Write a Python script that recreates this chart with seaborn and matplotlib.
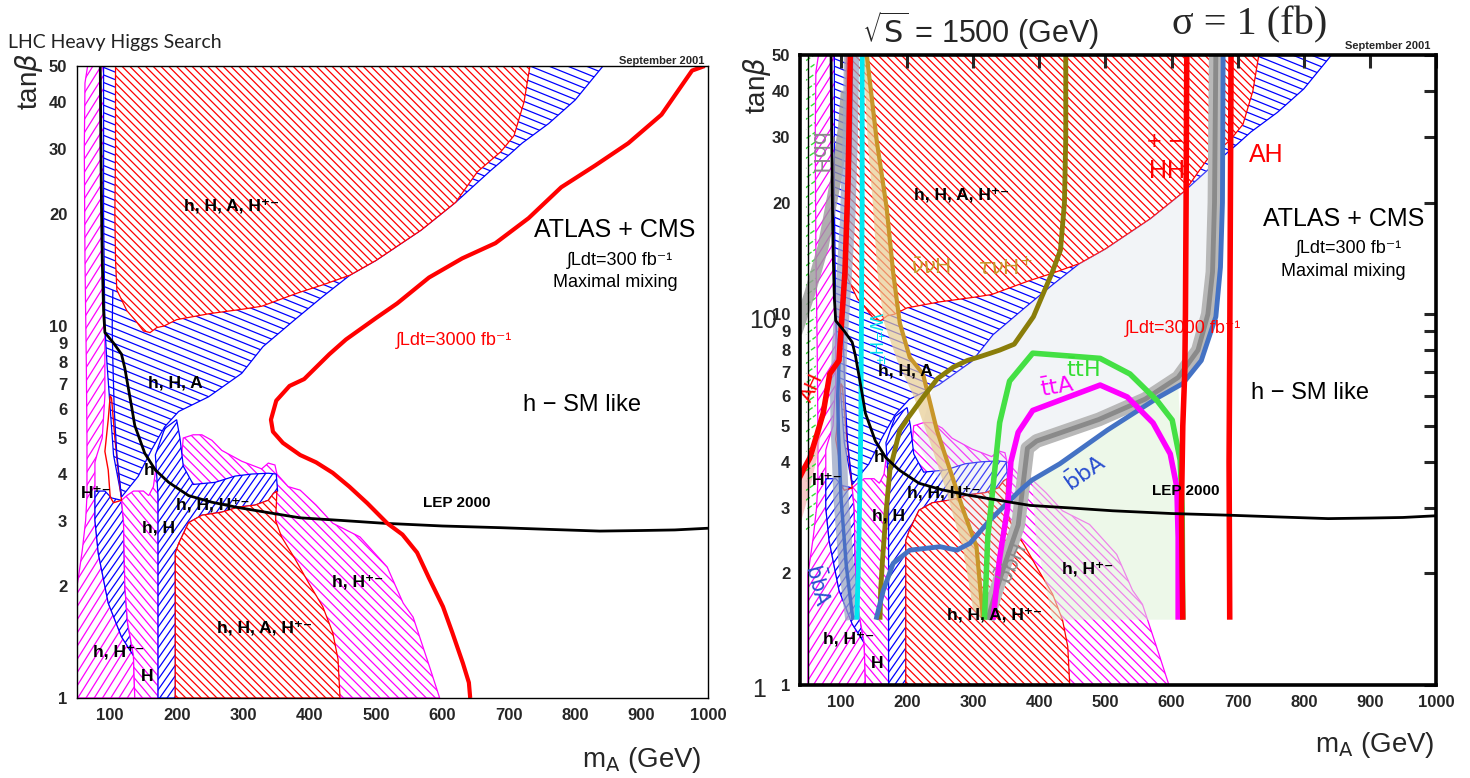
import numpy as np
import matplotlib

matplotlib.use("Agg")
import matplotlib.pyplot as plt
import seaborn as sns
from matplotlib.patches import Polygon
from matplotlib.collections import LineCollection
from matplotlib.transforms import Affine2D
from matplotlib.ticker import FixedLocator, FixedFormatter, MultipleLocator, NullLocator

# ---------------- 300 fb-1 regions (x = mA in GeV, y = tan beta) ----------------
red_top_x = [108, 108, 107, 108, 110, 125, 137, 150, 160, 170, 181, 200, 250, 300, 328, 384, 420, 461,
             500, 568, 620, 653, 688, 708, 723, 732]
red_top_y = [50, 30, 20, 15, 12.5, 11, 10.4, 9.7, 9.6, 9.9, 10.0, 10.4, 10.8, 11.1, 11.3, 12.3, 12.9, 13.7,
             15.0, 18.1, 21.5, 26.0, 29.4, 32.5, 40, 50]
blue_top_x = [90, 842, 800, 760, 720, 700, 673, 620, 568, 500, 461, 420, 378, 330, 298, 248, 203, 182, 162,
              142, 117, 105, 100, 95, 92, 90]
blue_top_y = [50, 50, 40.5, 35, 31, 28.8, 26.2, 21.5, 18.1, 15.0, 13.7, 12.0, 10.4, 8.8, 7.46, 6.45, 5.89,
              5.36, 4.64, 3.94, 3.47, 4.5, 6, 8, 10, 20]
mag_left_x = [50, 50, 52, 58, 63, 65, 65, 64, 62, 61, 62, 66, 88, 92, 92, 88, 80, 77, 77, 82, 97, 117, 135, 137]
mag_left_y = [1.0, 2.0, 2.1, 2.5, 3.0, 3.5, 5, 8, 15, 30, 45, 50, 50, 46, 6.5, 5, 4.5, 4.3, 3.0, 2.45, 1.8,
              1.46, 1.3, 1.0]
blue_low_x = [77, 92, 102, 117, 120, 122, 126, 135, 117, 97, 82, 77]
blue_low_y = [3.6, 3.6, 3.45, 3.4, 3.0, 2.0, 1.6, 1.3, 1.46, 1.8, 2.45, 3.0]
mag_hH_x = [117, 125, 135, 150, 158, 165, 170, 172, 172, 137, 135, 126, 122, 120]
mag_hH_y = [3.4, 3.5, 3.6, 3.6, 3.5, 3.7, 4.3, 4.5, 1.0, 1.0, 1.3, 1.6, 2.0, 3.0]
mag_big_x = [198, 205, 210, 225, 238, 253, 268, 298, 328, 338, 348, 351, 368, 386, 410, 435, 476, 517, 541,
             556, 581, 596]
mag_big_y = [1.0, 4.0, 5.0, 5.1, 5.1, 4.93, 4.63, 4.33, 4.13, 4.28, 4.23, 4.0, 3.7, 3.62, 3.3, 2.95, 2.71,
             2.25, 1.8, 1.65, 1.21, 1.0]
blue_mid_x = [172, 172, 168, 182, 200, 205, 210, 225, 258, 288, 313, 338, 350, 352, 346, 338, 318, 293, 268,
              238, 218, 203, 198, 198]
blue_mid_y = [1.0, 3.5, 4.5, 5.3, 5.6, 5.0, 4.2, 3.75, 3.8, 3.95, 4.0, 4.02, 4.0, 3.6, 3.55, 3.4, 3.3, 3.26,
              3.16, 3.1, 2.96, 2.6, 2.45, 1.0]
red_low_x = [198, 198, 203, 218, 238, 268, 293, 318, 338, 346, 351, 349, 358, 378, 398, 420, 435, 443, 446]
red_low_y = [1.0, 2.45, 2.6, 2.96, 3.1, 3.16, 3.26, 3.3, 3.4, 3.55, 3.6, 3.0, 2.71, 2.37, 2.05, 1.76, 1.5,
             1.27, 1.0]
red_hc_x = [100, 97, 92, 97, 100, 105, 117, 112, 107, 102, 100]
red_hc_y = [6.5, 5.6, 4.6, 4.1, 3.47, 3.35, 3.4, 4.1, 5.0, 6.4, 6.5]
blue_thin_x = [117, 110, 106, 104, 103, 104]
blue_thin_y = [3.47, 4.5, 6, 8, 10, 12.5]

lep_x = [85, 86, 87, 88, 90, 92, 105, 117, 122, 132, 137, 152, 168, 188, 218, 253, 293, 338, 386, 450, 511,
         600, 687, 760, 837, 900, 950, 1000]
lep_y = [50, 30, 20, 15, 11, 9.6, 9.0, 8.4, 7.7, 6.1, 5.4, 4.55, 4.1, 3.8, 3.5, 3.36, 3.25, 3.15, 3.05, 3.0,
         2.95, 2.9, 2.87, 2.84, 2.81, 2.82, 2.83, 2.86]
l3000_x = [642, 640, 631, 615, 601, 580, 562, 540, 517, 487, 460, 435, 410, 386, 360, 345, 342, 350, 370, 392,
           430, 455, 500, 532, 580, 630, 680, 730, 779, 830, 880, 930, 976, 995]
l3000_y = [1.0, 1.1, 1.24, 1.5, 1.76, 2.1, 2.46, 2.75, 2.95, 3.34, 3.7, 4.03, 4.3, 4.5, 4.85, 5.2, 5.6, 6.3,
           6.9, 7.2, 8.4, 9.2, 10.5, 11.5, 13.5, 15.2, 16.7, 19.5, 23.6, 27, 31, 37, 48.6, 50]

# ---------------- sigma = 1 fb contours at sqrt(s) = 1500 GeV ----------------
dots_x = [215, 240, 298, 330, 378, 420, 461, 500, 568, 620, 667, 665, 655, 640, 610, 560, 490, 396, 382, 368,
          347, 332, 322, 300, 290, 250]
dots_y = [4.5, 6.4, 7.46, 8.8, 10.4, 12.0, 13.7, 15.0, 18.1, 21.5, 26, 13, 10, 8, 6.75, 5.9, 5.2, 4.55, 4.35,
          2.7, 2.1, 1.73, 1.5, 1.5, 2.3, 3.5]
gdots_x = [389, 431, 503, 581, 610, 615, 617, 500, 420, 395]
gdots_y = [3.57, 3.95, 4.87, 5.98, 6.6, 4.0, 1.5, 1.5, 1.5, 2.5]
pink_x = [33, 53, 73, 83, 65, 50, 38, 33]
pink_y = [3.5, 4.1, 5.4, 6.9, 4.2, 3.2, 2.7, 2.6]
gstrip_x = [47, 60, 62, 62, 58, 47]
gstrip_y = [50, 50, 10, 3.0, 2.6, 2.6]
bbH_diag_x = [33, 53, 73, 94, 104, 108]
bbH_diag_y = [8.9, 11.4, 15.2, 24, 32, 40]
bb_left_x = [116, 114, 110, 104, 98, 95, 96, 100, 108, 118]
bb_left_y = [50, 30, 18, 12, 8.2, 6, 4.9, 3.2, 2.1, 1.5]
AH_left_x = [114, 111, 106, 100, 97, 90, 83, 73, 63, 53, 43, 33]
AH_left_y = [50, 24, 13, 9, 7.5, 7.2, 6.9, 5.4, 4.7, 4.1, 3.8, 3.5]
cyan_x = [132, 132, 131, 130, 128, 126, 124]
cyan_y = [50, 20, 10, 5, 3, 2, 1.5]
nnH_x = [139, 154, 169, 179, 189, 204, 224, 245, 265, 285, 305, 315]
nnH_y = [50, 29.4, 19.4, 12.9, 9.46, 7.65, 6.9, 4.87, 3.8, 2.96, 2.36, 1.5]
nnH_band_x = [134, 140, 148, 155, 165, 185, 210, 235, 260, 285, 300]
nnH_band_y = [50, 30, 20, 13, 9.5, 7.5, 6.0, 4.5, 3.3, 2.3, 1.6]
tnH_x = [159, 160, 163, 168, 174, 189, 203, 225, 246, 270, 291, 312, 340, 362, 391, 419, 432, 438, 440, 440]
tnH_y = [1.5, 1.8, 2.2, 2.9, 3.8, 4.87, 5.3, 6.0, 6.7, 7.2, 7.5, 7.7, 8.0, 8.3, 9.84, 12.9, 14.9, 20, 30, 50]
bbH_x = [322, 332, 347, 368, 382, 396, 490, 560, 610, 640, 655, 662, 665, 667]
bbH_y = [1.5, 1.73, 2.1, 2.7, 4.35, 4.55, 5.2, 5.9, 6.75, 8, 10, 13, 20, 50]
bbA_x = [153, 164, 179, 204, 250, 275, 295, 325, 371, 389, 431, 503, 581, 617, 645, 667, 674, 677, 678]
bbA_y = [1.5, 1.8, 2.13, 2.31, 2.36, 2.31, 2.41, 2.78, 3.35, 3.57, 3.95, 4.87, 5.98, 6.5, 7.5, 9.84, 13.4, 20, 50]
ttH_x = [317, 322, 331, 340, 355, 390, 492, 537, 578, 601, 613, 616, 617]
ttH_y = [1.5, 2.5, 3.57, 5.1, 6.6, 7.85, 7.6, 6.9, 5.85, 5.18, 4.04, 3.0, 1.5]
ttA_x = [330, 340, 352, 357, 368, 390, 492, 533, 572, 598, 608, 610, 610]
ttA_y = [1.5, 2.2, 3.0, 4.0, 4.8, 5.5, 6.44, 5.98, 5.09, 4.2, 3.42, 2.5, 1.5]
HH_x = [623, 622, 621, 620, 617, 615, 616, 617]
HH_y = [50, 20, 10, 7, 5, 3, 2, 1.5]
AH_x = [690, 689, 688, 687, 688]
AH_y = [50, 20, 8, 4, 1.5]

ytick_vals = [1, 2, 3, 4, 5, 6, 7, 8, 9, 10, 20, 30, 40, 50]
xtick_vals = [100, 200, 300, 400, 500, 600, 700, 800, 900, 1000]

RED, BLUE, MAG = "#ff0000", "#0000ff", "#ff00ff"

sns.set_theme(style="white")
plt.rcParams["font.family"] = ["Liberation Sans", "DejaVu Sans"]
plt.rcParams["mathtext.fontset"] = "dejavusans"

fig = plt.figure(figsize=(14.7, 7.78), dpi=100)
axL = fig.add_axes([0.05238, 0.10283, 0.42925, 0.81234])
axR = fig.add_axes([0.54422, 0.11954, 0.43265, 0.80977])


def hatched(ax, xs, ys, color, angle, gap, lw=0.9, face="white", edge=True, ls="-", z=2):
    pos = ax.get_position()
    W = pos.width * fig.get_figwidth() * fig.dpi
    H = pos.height * fig.get_figheight() * fig.dpi
    poly = Polygon(np.column_stack([xs, ys]), closed=True, facecolor=face,
                   edgecolor=color if edge else "none", lw=0.9, zorder=z)
    ax.add_patch(poly)
    t = np.deg2rad(angle)
    d = np.array([np.cos(t), np.sin(t)])
    n = np.array([-d[1], d[0]])
    L = np.hypot(W, H)
    c = np.array([W / 2, H / 2])
    segs = [[c + o * n - L * d, c + o * n + L * d] for o in np.arange(-L / 2 - gap, L / 2 + gap, gap)]
    lc = LineCollection(segs, colors=color, linewidths=lw, linestyles=ls,
                        transform=Affine2D().scale(1 / W, 1 / H) + ax.transAxes, zorder=z)
    ax.add_collection(lc, autolim=False)
    lc.set_clip_path(poly)


def line(ax, xs, ys, color, lw, z=6, alpha=1.0):
    sns.lineplot(x=xs, y=ys, sort=False, estimator=None, color=color, lw=lw, alpha=alpha,
                 ax=ax, zorder=z, legend=False, solid_joinstyle="round", solid_capstyle="butt")


def lab(ax, s, x, y, size=12.5, color="black", weight="bold", rot=0, z=10):
    ax.text(x, y, s, fontsize=size, color=color, fontweight=weight, rotation=rot,
            ha="center", va="center", zorder=z)


def base(ax):
    hatched(ax, mag_left_x, mag_left_y, MAG, 58, 7)
    hatched(ax, blue_top_x, blue_top_y, BLUE, -22, 7)
    hatched(ax, red_top_x, red_top_y, RED, -45, 5.5)
    hatched(ax, blue_low_x, blue_low_y, BLUE, 55, 6)
    hatched(ax, mag_hH_x, mag_hH_y, MAG, -50, 6.5)
    hatched(ax, mag_big_x, mag_big_y, MAG, -45, 6.5)
    hatched(ax, blue_mid_x, blue_mid_y, BLUE, 55, 6)
    hatched(ax, red_low_x, red_low_y, RED, -45, 5.5)
    ax.add_patch(Polygon(np.column_stack([red_hc_x, red_hc_y]), closed=True, fill=False,
                         edgecolor=RED, lw=1.0, zorder=3))
    line(ax, blue_thin_x, blue_thin_y, BLUE, 0.9, z=3)
    line(ax, lep_x, lep_y, "black", 2.0, z=7)

    for s, x, y in [("h, H, A, H⁺⁻", 282, 21), ("h, H, A", 198, 7.03), ("h", 158, 4.1),
                    ("H⁺⁻", 79, 3.55), ("h, H, H⁺⁻", 255, 3.3), ("h, H", 172, 2.86),
                    ("h, H⁺⁻", 473, 2.05), ("h, H, A, H⁺⁻", 333, 1.54), ("h, H⁺⁻", 112, 1.33),
                    ("H", 155, 1.14)]:
        lab(ax, s, x, y)
    lab(ax, "LEP 2000", 622, 3.34, size=11)
    lab(ax, "ATLAS + CMS", 860, 18.1, size=18, weight="normal")
    lab(ax, "∫Ldt=300 fb⁻¹", 868, 15.0, size=13, weight="normal")
    lab(ax, "Maximal mixing", 860, 13.06, size=13, weight="normal")
    lab(ax, "∫Ldt=3000 fb⁻¹", 617, 9.17, size=13, color=RED, weight="normal")
    lab(ax, "h − SM like", 810, 6.13, size=17, weight="normal")


def style(ax, xmin, heavy):
    ax.set_yscale("log")
    ax.set_xlim(xmin, 1000)
    ax.set_ylim(1, 50)
    ax.yaxis.set_major_locator(FixedLocator(ytick_vals))
    ax.yaxis.set_major_formatter(FixedFormatter([str(v) for v in ytick_vals]))
    ax.yaxis.set_minor_locator(NullLocator())
    ax.xaxis.set_major_locator(FixedLocator(xtick_vals))
    ax.xaxis.set_minor_locator(MultipleLocator(10))
    ax.set_xlabel("")
    ax.set_ylabel("")
    w = 2.2 if heavy else 1.0
    ax.tick_params(axis="both", which="major", direction="in", top=heavy, right=heavy,
                   width=w, labelsize=12, length=9 if heavy else 8, pad=7)
    ax.tick_params(axis="x", which="minor", direction="in", top=False, width=w * 0.6, length=4)
    for t in ax.get_xticklabels() + ax.get_yticklabels():
        t.set_fontweight("bold")
    ax.set_axisbelow(False)
    ax.xaxis.set_zorder(20)
    ax.yaxis.set_zorder(20)
    for sp in ax.spines.values():
        sp.set_linewidth(2.6 if heavy else 1.0)
        sp.set_color("black")
        sp.set_zorder(21)


# ---------------- left panel ----------------
base(axL)
line(axL, l3000_x, l3000_y, RED, 3.0, z=7)
style(axL, 50, False)

# ---------------- right panel ----------------
base(axR)
axR.axvline(50, color="black", lw=1.0, zorder=8)
axR.add_patch(Polygon(np.column_stack([dots_x, dots_y]), closed=True, facecolor="#d5dbe6",
                      edgecolor="none", alpha=0.3, zorder=4))
axR.add_patch(Polygon(np.column_stack([gdots_x, gdots_y]), closed=True, facecolor="#dff3d8",
                      edgecolor="none", alpha=0.55, zorder=4))
axR.add_patch(Polygon(np.column_stack([pink_x, pink_y]), closed=True, facecolor="#f4a6a6",
                      edgecolor="none", alpha=0.6, zorder=4))
hatched(axR, gstrip_x, gstrip_y, "#33dd33", 35, 8, lw=1.0, face="none", edge=False, ls="--", z=4)
axR.add_patch(Polygon(np.column_stack([nnH_band_x + nnH_x[::-1], nnH_band_y + nnH_y[::-1]]), closed=True,
                      facecolor="#e8cc92", edgecolor="none", alpha=0.7, zorder=4))
line(axR, bbH_diag_x, bbH_diag_y, "#9a9a9a", 8, z=4.5, alpha=0.8)
line(axR, bb_left_x, bb_left_y, "#9aa6c4", 11, z=4.5, alpha=0.75)
line(axR, bb_left_x, bb_left_y, "#4a6fc4", 2.5, z=5)
line(axR, bbH_x, bbH_y, "#b8b8b8", 10, z=5)
line(axR, bbH_x, bbH_y, "#8a8a8a", 3.5, z=5)
line(axR, cyan_x, cyan_y, "#00e8f0", 3.5, z=5)
line(axR, nnH_x, nnH_y, "#c8962a", 3.0, z=5)
line(axR, tnH_x, tnH_y, "#8a7d0a", 3.5, z=5)
line(axR, bbA_x, bbA_y, "#4472c4", 3.5, z=5.5)
line(axR, ttH_x, ttH_y, "#44e044", 4.0, z=5.5)
line(axR, ttA_x, ttA_y, "#ff00ff", 4.0, z=5.5)
line(axR, HH_x, HH_y, RED, 4.0, z=6)
line(axR, AH_x, AH_y, RED, 4.0, z=6)
line(axR, AH_left_x, AH_left_y, RED, 4.0, z=6)

lab(axR, "AH", 744, 26.8, size=18, color=RED, weight="normal")
lab(axR, "HH", 593, 24.4, size=18, color=RED, weight="normal")
lab(axR, "+ −", 590, 29.1, size=18, color=RED, weight="normal")
lab(axR, r"$\bar{\nu}\nu$H", 235, 13.3, size=16, color="#c8962a", weight="normal")
lab(axR, r"$\tau\nu$H$^{+}$", 348, 13.3, size=16, color="#c8962a", weight="normal")
lab(axR, r"$\bar{\mathrm{t}}\mathrm{tH}$", 466, 7.06, size=16, color="#33dd33", weight="normal")
lab(axR, r"$\bar{\mathrm{t}}\mathrm{tA}$", 427, 6.35, size=16, color=MAG, weight="normal", rot=10)
lab(axR, r"$\bar{\mathrm{b}}\mathrm{bA}$", 469, 3.72, size=16, color="#2a4fd0", weight="normal", rot=35)
lab(axR, r"$\bar{\mathrm{b}}\mathrm{bH}$", 359, 2.13, size=15, color="#8a8a8a", weight="normal", rot=65)
lab(axR, r"$\bar{\mathrm{b}}\mathrm{bH}$", 68, 27.6, size=15, color="#8a8a8a", weight="normal", rot=-90)
lab(axR, r"$\bar{\mathrm{b}}\mathrm{bA}$", 65, 1.86, size=15, color="#2a4fd0", weight="normal", rot=-75)
lab(axR, "AH", 57, 6.35, size=15, color=RED, weight="normal", rot=65)
lab(axR, "W$^{\\pm}$H$^{\\mp}$", 150, 8.6, size=13, color="#00e0ee", weight="normal", rot=-90)
style(axR, 38, True)

# ---------------- figure texts ----------------
fig.text(0.0055, 0.946, "LHC Heavy Higgs Search", fontsize=14, family=["Lato", "DejaVu Sans"],
         color="#222222", ha="left", va="center")
fig.text(0.479, 0.921, "September 2001", fontsize=8, fontweight="bold", ha="right", va="center")
fig.text(0.9728, 0.941, "September 2001", fontsize=8, fontweight="bold", ha="right", va="center")
fig.text(0.020, 0.896, r"tan$\beta$", fontsize=20, rotation=90, ha="center", va="center")
fig.text(0.515, 0.890, r"tan$\beta$", fontsize=20, rotation=90, ha="center", va="center")
fig.text(0.4367, 0.0231, r"m$_{\mathrm{A}}$ (GeV)", fontsize=20, ha="center", va="center")
fig.text(0.9354, 0.0424, r"m$_{\mathrm{A}}$ (GeV)", fontsize=20, ha="center", va="center")
fig.text(0.6667, 0.961, r"$\sqrt{\mathrm{S}}$ = 1500 (GeV)", fontsize=22, ha="center", va="center")
fig.text(0.850, 0.968, "σ = 1 (fb)", fontsize=29, family=["Liberation Serif", "DejaVu Serif"],
         ha="center", va="center")
fig.text(0.519, 0.588, "10", fontsize=18, ha="center", va="center")
fig.text(0.5165, 0.113, "1", fontsize=18, ha="center", va="center")

fig.savefig("out.png", dpi=100)
